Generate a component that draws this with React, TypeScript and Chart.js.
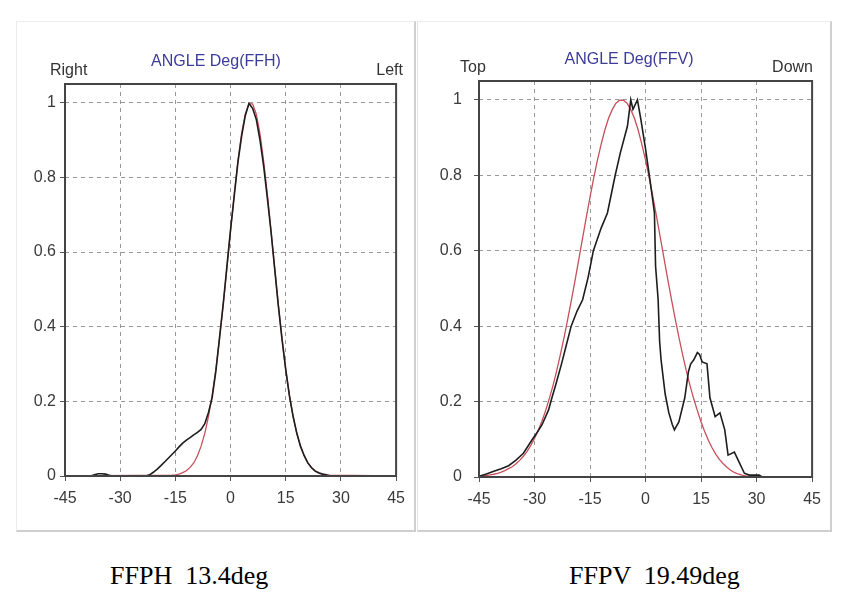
import React, { useEffect, useRef } from "react";
import { Chart, registerables } from "chart.js";

Chart.register(...registerables);

// ---------- axis ticks ----------
const X_TICKS = [-45, -30, -15, 0, 15, 30, 45];
const Y_TICKS = [0, 0.2, 0.4, 0.6, 0.8, 1];

// ---------- FFH (horizontal) ----------
const FFH_MEAS_ANGLES = [
  -45, -38, -37, -36, -35, -34, -33, -32, -23,
  -22, -21, -20, -19, -18, -17, -16, -15, -14, -13,
  -12, -11, -10, -9, -8, -7, -6, -5, -4, -3,
  -2, -1, 0, 1, 2, 3, 4, 5, 6, 7,
  8, 9, 10, 11, 12, 13, 14, 15, 16, 17,
  18, 19, 20, 21, 22, 23, 24, 25, 26, 27, 45,
];
const FFH_MEAS_VALUES = [
  0, 0, 0.003, 0.006, 0.006, 0.005, 0.002, 0, 0,
  0.003, 0.01, 0.018, 0.027, 0.037, 0.047, 0.057, 0.067, 0.078, 0.088,
  0.096, 0.103, 0.11, 0.117, 0.125, 0.14, 0.17, 0.21, 0.28, 0.37,
  0.46, 0.56, 0.66, 0.75, 0.84, 0.91, 0.965, 0.998, 0.985, 0.955,
  0.9, 0.83, 0.745, 0.655, 0.555, 0.455, 0.365, 0.285, 0.215, 0.16,
  0.115, 0.08, 0.055, 0.035, 0.022, 0.013, 0.008, 0.005, 0.003, 0, 0,
];
const FFH_FIT_ANGLES = [
  -45, -16, -15, -14, -13, -12, -11, -10, -9, -8, -7, -6, -5, -4, -3, -2, -1,
  0, 1, 2, 3, 4, 5, 6, 7, 8, 9, 10, 11, 12, 13, 14, 15, 16, 17, 18, 19, 20,
  21, 22, 23, 24, 25, 26, 27, 45,
];
const FFH_FIT_VALUES = [
  0, 0.002, 0.003, 0.005, 0.009, 0.014, 0.023, 0.035, 0.054, 0.08, 0.114, 0.16,
  0.216, 0.286, 0.368, 0.458, 0.556,
  0.657, 0.755, 0.843, 0.917, 0.969, 0.997, 0.997, 0.969, 0.917, 0.843, 0.755,
  0.657, 0.556, 0.458, 0.368, 0.286, 0.216, 0.16, 0.114, 0.08, 0.054,
  0.035, 0.023, 0.014, 0.009, 0.005, 0.003, 0.002, 0,
];

// ---------- FFV (vertical) ----------
const FFV_MEAS_ANGLES = [
  -45, -43, -41, -39, -37, -35, -33, -30.7, -29.3, -28, -26.2, -25.3, -24.4,
  -22.7, -21.4, -20.1, -18.5, -17, -15.5, -14.1, -12, -10.3, -8.2, -6.8, -4.9,
  -4, -3.4, -2.2, -1.3, 0, 1.3, 2, 2.4, 2.7, 3.4, 3.8, 4.2, 5.3, 6.3, 7.2, 7.8,
  9, 10.6, 11.6, 12.2, 13, 14, 14.6, 15.3, 16.6, 17.4, 18.8, 20.1, 21.4, 22.3,
  24, 25.4, 26.7, 28, 30.7, 31.5, 45,
];
const FFV_MEAS_VALUES = [
  0.002, 0.008, 0.015, 0.022, 0.03, 0.045, 0.063, 0.098, 0.118, 0.138, 0.178, 0.21, 0.24,
  0.3, 0.35, 0.4, 0.44, 0.47, 0.53, 0.6, 0.66, 0.7, 0.8, 0.86, 0.93,
  1, 0.975, 1, 0.95, 0.87, 0.78, 0.73, 0.7, 0.56, 0.47, 0.36, 0.31, 0.22, 0.17, 0.14, 0.125,
  0.146, 0.21, 0.28, 0.3, 0.31, 0.33, 0.325, 0.305, 0.3, 0.21, 0.16, 0.17, 0.125, 0.058,
  0.066, 0.037, 0.01, 0.005, 0.005, 0, 0,
];
const FFV_FIT_ANGLES = [
  -45, -44, -43, -42, -41, -40, -39, -38, -37, -36, -35, -34, -33, -32, -31,
  -30, -29, -28, -27, -26, -25, -24, -23, -22, -21, -20, -19, -18, -17, -16,
  -15, -14, -13, -12, -11, -10, -9, -8, -7, -6, -5, -4, -3, -2, -1,
  0, 1, 2, 3, 4, 5, 6, 7, 8, 9, 10, 11, 12, 13, 14,
  15, 16, 17, 18, 19, 20, 21, 22, 23, 24, 25, 26, 27, 28, 29, 45,
];
const FFV_FIT_VALUES = [
  0.002, 0.003, 0.004, 0.0055, 0.0073, 0.0097, 0.013, 0.017, 0.022, 0.027, 0.035, 0.044, 0.055, 0.068, 0.084,
  0.102, 0.124, 0.148, 0.176, 0.208, 0.243, 0.282, 0.325, 0.371, 0.42, 0.471, 0.524, 0.579, 0.634, 0.689,
  0.742, 0.793, 0.84, 0.882, 0.92, 0.951, 0.974, 0.991, 0.999, 0.999, 0.991, 0.974, 0.951, 0.92, 0.882,
  0.84, 0.793, 0.742, 0.689, 0.634, 0.579, 0.524, 0.471, 0.42, 0.371, 0.325, 0.282, 0.243, 0.208, 0.176,
  0.146, 0.12, 0.097, 0.077, 0.06, 0.046, 0.035, 0.026, 0.018, 0.012, 0.008, 0.005, 0.003, 0.001, 0, 0,
];

const toPoints = (xs: number[], ys: number[]) => xs.map((x, i) => ({ x, y: ys[i] }));

const FONT = '"Liberation Sans", Arial, sans-serif';

const panelDecor = {
  id: "panelDecor",
  afterDraw(chart: any, _args: any, opts: any) {
    const ctx = chart.ctx;
    const a = chart.chartArea;
    ctx.save();
    ctx.setLineDash([]);
    ctx.strokeStyle = "#444";
    ctx.lineWidth = 2;
    ctx.strokeRect(a.left, a.top, a.right - a.left, a.bottom - a.top);

    ctx.textBaseline = "middle";
    ctx.font = `16px ${FONT}`;
    ctx.fillStyle = "#3c3c9a";
    ctx.textAlign = "center";
    ctx.fillText(opts.title, opts.titleX, opts.titleY);

    ctx.font = `16px ${FONT}`;
    ctx.fillStyle = "#333";
    ctx.textAlign = "left";
    ctx.fillText(opts.leftText, opts.leftX, opts.sideY);
    ctx.textAlign = "right";
    ctx.fillText(opts.rightText, opts.rightX, opts.sideY);
    ctx.restore();
  },
};

type PanelProps = {
  left: number;
  top: number;
  width: number;
  height: number;
  meas: { x: number; y: number }[];
  fit: { x: number; y: number }[];
  yAxisWidth: number;
  xAxisHeight: number;
  padTop: number;
  padRight: number;
  yLabelPad: number;
  decor: any;
};

function Panel(p: PanelProps) {
  const ref = useRef<HTMLCanvasElement>(null);
  useEffect(() => {
    if (!ref.current) return;
    const chart = new Chart(ref.current, {
      type: "line",
      data: {
        datasets: [
          {
            data: p.meas,
            borderColor: "#1e1e1e",
            borderWidth: 1.6,
            pointRadius: 0,
            fill: false,
            tension: 0,
            order: 0,
          },
          {
            data: p.fit,
            borderColor: "#c8505a",
            borderWidth: 1.3,
            pointRadius: 0,
            fill: false,
            tension: 0,
            order: 1,
          },
        ],
      },
      options: {
        responsive: false,
        maintainAspectRatio: false,
        animation: false,
        layout: { padding: { top: p.padTop, right: p.padRight, left: 0, bottom: 0 } },
        plugins: {
          legend: { display: false },
          tooltip: { enabled: false },
          panelDecor: p.decor,
        } as any,
        scales: {
          x: {
            type: "linear",
            min: -45,
            max: 45,
            afterBuildTicks: (s: any) => {
              s.ticks = X_TICKS.map((v) => ({ value: v }));
            },
            afterFit: (s: any) => {
              s.height = p.xAxisHeight;
            },
            ticks: {
              autoSkip: false,
              maxRotation: 0,
              padding: 8,
              color: "#3a3a3a",
              font: { family: FONT, size: 16 },
              callback: (v: any) => String(v),
            },
            grid: {
              color: "#999",
              lineWidth: 1,
              tickLength: 5,
              tickColor: "#555",
              tickBorderDash: [],
            },
            border: { display: false, dash: [4, 4] },
          },
          y: {
            type: "linear",
            min: 0,
            max: 1.05,
            afterBuildTicks: (s: any) => {
              s.ticks = Y_TICKS.map((v) => ({ value: v }));
            },
            afterFit: (s: any) => {
              s.width = p.yAxisWidth;
            },
            ticks: {
              padding: p.yLabelPad,
              color: "#3a3a3a",
              font: { family: FONT, size: 16 },
              callback: (v: any) => String(Math.round(Number(v) * 10) / 10),
            },
            grid: {
              color: "#999",
              lineWidth: 1,
              tickLength: 5,
              tickColor: "#555",
              tickBorderDash: [],
            },
            border: { display: false, dash: [4, 4] },
          },
        },
      },
      plugins: [panelDecor],
    });
    return () => chart.destroy();
  }, []);
  return (
    <canvas
      ref={ref}
      width={p.width}
      height={p.height}
      style={{
        position: "absolute",
        left: p.left,
        top: p.top,
        width: p.width,
        height: p.height,
      }}
    />
  );
}

const captionStyle: React.CSSProperties = {
  position: "absolute",
  top: 563,
  fontFamily: '"Liberation Serif", "Times New Roman", serif',
  fontSize: 26,
  lineHeight: "26px",
  whiteSpace: "pre",
  color: "#000",
};

export default function App() {
  return (
    <div
      style={{
        position: "absolute",
        left: 0,
        top: 0,
        width: 843,
        height: 600,
        background: "#fff",
        overflow: "hidden",
      }}
    >
      {/* panel frames */}
      <div
        style={{
          position: "absolute",
          left: 16,
          top: 21,
          width: 397,
          height: 508,
          borderLeft: "1px solid #ececec",
          borderTop: "1px solid #ececec",
          borderRight: "2px solid #cfcfcf",
          borderBottom: "2px solid #cfcfcf",
          background: "#fff",
        }}
      />
      <div
        style={{
          position: "absolute",
          left: 417,
          top: 21,
          width: 412,
          height: 508,
          borderLeft: "1px solid #e4e4e4",
          borderTop: "1px solid #ececec",
          borderRight: "2px solid #cfcfcf",
          borderBottom: "2px solid #cfcfcf",
          background: "#fff",
        }}
      />
      <Panel
        left={17}
        top={22}
        width={396}
        height={507}
        meas={toPoints(FFH_MEAS_ANGLES, FFH_MEAS_VALUES)}
        fit={toPoints(FFH_FIT_ANGLES, FFH_FIT_VALUES)}
        yAxisWidth={48}
        xAxisHeight={53}
        padTop={62}
        padRight={7}
        yLabelPad={4}
        decor={{
          title: "ANGLE Deg(FFH)",
          titleX: 216 - 17,
          titleY: 40,
          leftText: "Right",
          leftX: 33,
          rightText: "Left",
          rightX: 386,
          sideY: 49,
        }}
      />
      <Panel
        left={418}
        top={22}
        width={411}
        height={507}
        meas={toPoints(FFV_MEAS_ANGLES, FFV_MEAS_VALUES)}
        fit={toPoints(FFV_FIT_ANGLES, FFV_FIT_VALUES)}
        yAxisWidth={61}
        xAxisHeight={52}
        padTop={59}
        padRight={10}
        yLabelPad={12}
        decor={{
          title: "ANGLE Deg(FFV)",
          titleX: 211,
          titleY: 38,
          leftText: "Top",
          leftX: 42,
          rightText: "Down",
          rightX: 395,
          sideY: 46,
        }}
      />
      <div style={{ ...captionStyle, left: 110 }}>{"FFPH  13.4deg"}</div>
      <div style={{ ...captionStyle, left: 569 }}>{"FFPV  19.49deg"}</div>
    </div>
  );
}
